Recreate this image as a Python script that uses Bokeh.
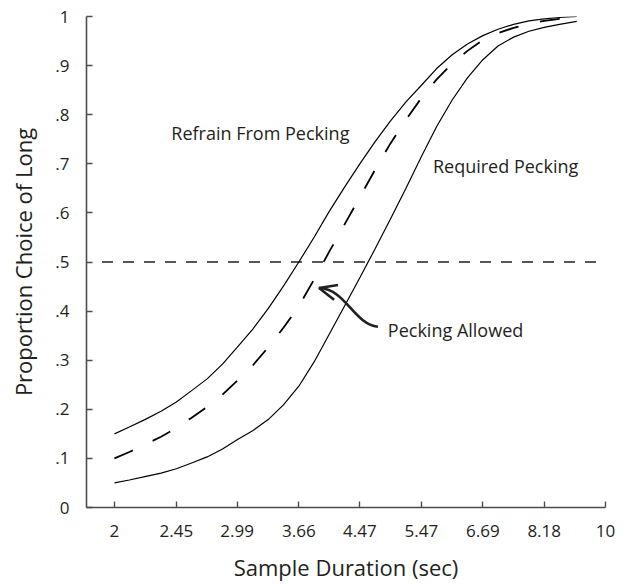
from bokeh.plotting import figure
from bokeh.models import FixedTicker
from bokeh.core.properties import value
from bokeh.embed import file_html
from bokeh.resources import INLINE

# ---- data ----
durations = [2.00, 2.10, 2.21, 2.33, 2.45, 2.57, 2.71, 2.85, 2.99, 3.15, 3.31, 3.48,
             3.66, 3.85, 4.04, 4.25, 4.47, 4.70, 4.94, 5.20, 5.47, 5.75, 6.05, 6.36,
             6.69, 7.03, 7.40, 7.78, 8.18, 8.60, 9.10]
refrain = [0.150, 0.164, 0.179, 0.196, 0.215, 0.237, 0.262, 0.292, 0.326, 0.364, 0.405, 0.451,
           0.500, 0.551, 0.602, 0.652, 0.700, 0.745, 0.787, 0.826, 0.860, 0.894, 0.922, 0.944,
           0.961, 0.974, 0.984, 0.991, 0.995, 0.998, 1.000]
allowed = [0.100, 0.113, 0.128, 0.144, 0.162, 0.182, 0.205, 0.230, 0.258, 0.290, 0.326, 0.366,
           0.410, 0.465, 0.520, 0.576, 0.632, 0.688, 0.741, 0.790, 0.834, 0.872, 0.904, 0.930,
           0.952, 0.966, 0.977, 0.985, 0.991, 0.995, 0.998]
required = [0.050, 0.056, 0.063, 0.070, 0.079, 0.090, 0.103, 0.119, 0.138, 0.157, 0.179, 0.209,
            0.247, 0.297, 0.352, 0.410, 0.468, 0.527, 0.587, 0.650, 0.715, 0.776, 0.830, 0.875,
            0.912, 0.940, 0.958, 0.970, 0.978, 0.984, 0.990]

x_ticks = [2, 2.45, 2.99, 3.66, 4.47, 5.47, 6.69, 8.18, 10]
x_tick_labels = ["2", "2.45", "2.99", "3.66", "4.47", "5.47", "6.69", "8.18", "10"]
y_ticks = [0, 0.1, 0.2, 0.3, 0.4, 0.5, 0.6, 0.7, 0.8, 0.9, 1]
y_tick_labels = ["0", ".1", ".2", ".3", ".4", ".5", ".6", ".7", ".8", ".9", "1"]

chance_x = [1.92, 10]
chance_y = [0.5, 0.5]

labels_text = ["Refrain From Pecking", "Required Pecking", "Pecking Allowed"]
labels_x = [2.41, 5.68, 4.90]
labels_y = [0.762, 0.695, 0.362]

# curved arrow (data coordinates)
arrow_tail = (4.743, 0.368)
arrow_c1 = (4.371, 0.375)
arrow_c2 = (4.270, 0.445)
arrow_tip = (3.911, 0.447)
arrow_arm1 = (4.162, 0.453)
arrow_arm2 = (4.108, 0.423)

FONT = "Open Sans"
TXT = "#231f20"
AX = "#4d4d4d"

p = figure(width=627, height=584, x_axis_type="log", x_range=(1.825, 10), y_range=(0, 1),
           output_backend="svg", toolbar_location=None,
           min_border_left=86, min_border_right=22, min_border_top=16, min_border_bottom=76)
p.outline_line_color = None
p.xgrid.grid_line_color = None
p.ygrid.grid_line_color = None
p.background_fill_color = "white"
p.border_fill_color = "white"

p.xaxis.ticker = FixedTicker(ticks=x_ticks)
p.xaxis.major_label_overrides = dict(zip(x_ticks, x_tick_labels))
p.yaxis.ticker = FixedTicker(ticks=y_ticks)
p.yaxis.major_label_overrides = dict(zip(y_ticks, y_tick_labels))

for ax in (p.xaxis, p.yaxis):
    ax.axis_line_color = AX
    ax.axis_line_width = 1.6
    ax.major_tick_line_color = AX
    ax.major_tick_line_width = 1.4
    ax.major_tick_in = 6
    ax.major_tick_out = 0
    ax.minor_tick_line_color = None
    ax.major_label_text_font = FONT
    ax.major_label_text_font_size = "17px"
    ax.major_label_text_color = TXT
    ax.axis_label_text_font = FONT
    ax.axis_label_text_font_size = "22px"
    ax.axis_label_text_font_style = "normal"
    ax.axis_label_text_color = TXT

p.xaxis.axis_label = "Sample Duration (sec)"
p.yaxis.axis_label = "Proportion Choice of Long"
p.xaxis.major_label_standoff = 17
p.yaxis.major_label_standoff = 17
p.xaxis.axis_label_standoff = 12
p.yaxis.axis_label_standoff = 14

# chance line
p.line(chance_x, chance_y, line_color="#231f20", line_width=1.5, line_dash="11 10")

# curves
p.line(durations, refrain, line_color="black", line_width=1.2)
p.line(durations, required, line_color="black", line_width=1.2)
p.line(durations, allowed, line_color="black", line_width=1.8, line_dash="20 22")

# labels
p.text(x=labels_x, y=labels_y, text=labels_text, text_font=value(FONT), text_font_size="18px",
       text_color=TXT, text_baseline="middle", text_align="left")

# curved arrow
p.bezier(x0=[arrow_tail[0]], y0=[arrow_tail[1]], x1=[arrow_tip[0]], y1=[arrow_tip[1]],
         cx0=[arrow_c1[0]], cy0=[arrow_c1[1]], cx1=[arrow_c2[0]], cy1=[arrow_c2[1]],
         line_color="#231f20", line_width=2.6)
p.multi_line(xs=[[arrow_arm1[0], arrow_tip[0], arrow_arm2[0]]],
             ys=[[arrow_arm1[1], arrow_tip[1], arrow_arm2[1]]],
             line_color="#231f20", line_width=2.6)

open("out.html", "w").write(file_html(p, INLINE))
